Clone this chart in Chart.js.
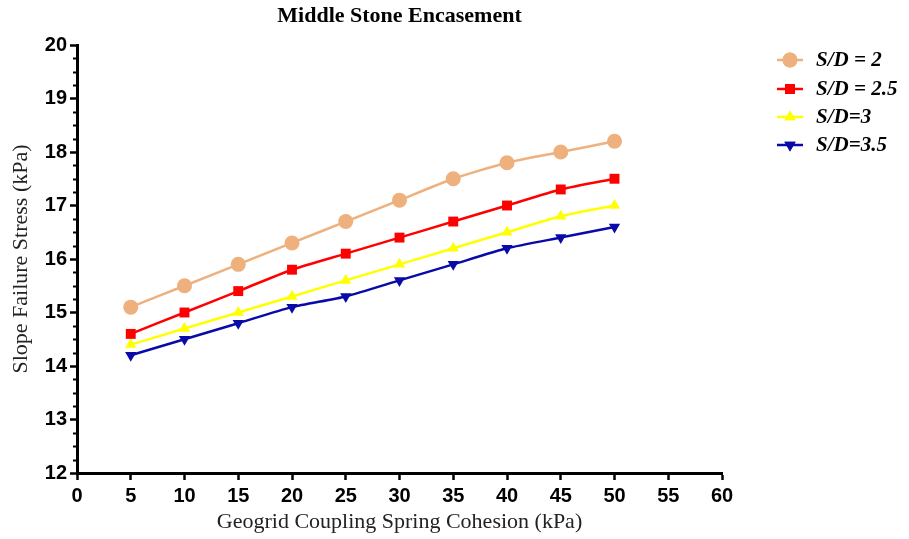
<!DOCTYPE html>
<html>
<head>
<meta charset="utf-8">
<script src="https://cdn.jsdelivr.net/npm/chart.js@4"></script>
<style>
  html,body{margin:0;padding:0;background:#fff;}
  #wrap{width:909px;height:539px;position:relative;}
</style>
</head>
<body>
<div id="wrap"><canvas id="c" width="909" height="539"></canvas></div>
<script>
// Middle Stone Encasement — slope failure stress vs geogrid coupling spring cohesion
const cohesion = [5, 10, 15, 20, 25, 30, 35, 40, 45, 50];
const sd2   = [15.1, 15.5, 15.9, 16.3, 16.7, 17.1, 17.5, 17.8, 18.0, 18.2];
const sd25  = [14.6, 15.0, 15.4, 15.8, 16.1, 16.4, 16.7, 17.0, 17.3, 17.5];
const sd3   = [14.4, 14.7, 15.0, 15.3, 15.6, 15.9, 16.2, 16.5, 16.8, 17.0];
const sd35  = [14.2, 14.5, 14.8, 15.1, 15.3, 15.6, 15.9, 16.2, 16.4, 16.6];
const seriesLabels = ['S/D = 2', 'S/D = 2.5', 'S/D=3', 'S/D=3.5'];

const tickFont = {family:'"Liberation Sans Narrow","Arial Narrow","Liberation Sans",sans-serif', size:20, weight:'bold'};
const serif = '"Liberation Serif","Times New Roman",serif';

const toXY = arr => arr.map((v,i)=>({x:cohesion[i], y:v}));

const styles = [
  {color:'#EEB07C', pointStyle:'circle',   radius:7.5, rotation:0},
  {color:'#FF0000', pointStyle:'rect',     radius:7,   rotation:0},
  {color:'#FFFF00', pointStyle:'triangle', radius:6.5, rotation:0},
  {color:'#0A0AA8', pointStyle:'triangle', radius:6.5, rotation:180},
];
const allData = [sd2, sd25, sd3, sd35];

const datasets = allData.map((arr,i)=>({
  label: seriesLabels[i],
  data: toXY(arr),
  borderColor: styles[i].color,
  backgroundColor: styles[i].color,
  borderWidth: 2.5,
  pointStyle: styles[i].pointStyle,
  pointRadius: styles[i].radius,
  pointRotation: styles[i].rotation,
  pointBorderWidth: 0,
  tension: 0.2,
  fill: false
}));

// titre + légende + petites graduations en Y
const extras = {
  id:'extras',
  afterDraw(chart){
    const ctx = chart.ctx, ca = chart.chartArea, ys = chart.scales.y;
    ctx.save();
    // minor ticks on y
    ctx.strokeStyle = '#000'; ctx.lineWidth = 2;
    for(let v=12; v<20; v+=0.25){
      if(Math.abs(v-Math.round(v))<1e-6) continue;
      const py = Math.round(ys.getPixelForValue(v))+0.5;
      ctx.beginPath(); ctx.moveTo(ca.left-4, py); ctx.lineTo(ca.left, py); ctx.stroke();
    }
    // title
    ctx.fillStyle = '#000';
    ctx.font = 'bold 22px '+serif;
    ctx.textAlign = 'center'; ctx.textBaseline = 'middle';
    ctx.fillText('Middle Stone Encasement', (ca.left+ca.right)/2, 16);
    // legend
    const rows = [60, 89, 117, 145];
    ctx.font = 'italic bold 21px '+serif;
    ctx.textAlign = 'left';
    rows.forEach((ry,i)=>{
      const s = styles[i];
      ctx.strokeStyle = s.color; ctx.lineWidth = 2.5;
      ctx.beginPath(); ctx.moveTo(777, ry); ctx.lineTo(803, ry); ctx.stroke();
      ctx.fillStyle = s.color;
      Chart.helpers.drawPoint(ctx, {pointStyle:s.pointStyle, radius:s.radius, rotation:s.rotation, borderWidth:0}, 790, ry);
      ctx.fill();
      ctx.fillStyle = '#000';
      ctx.fillText(seriesLabels[i], 816, ry+1);
    });
    ctx.restore();
  }
};

new Chart(document.getElementById('c').getContext('2d'), {
  type:'line',
  data:{datasets},
  options:{
    responsive:false,
    animation:false,
    layout:{padding:{left:0, right:187, top:45, bottom:0}},
    plugins:{legend:{display:false}, title:{display:false}, tooltip:{enabled:false}},
    scales:{
      x:{
        type:'linear', min:0, max:60,
        ticks:{stepSize:5, color:'#000', font:tickFont, padding:4, maxRotation:0},
        grid:{drawOnChartArea:false, drawTicks:true, tickLength:7, tickWidth:2.5, tickColor:'#000'},
        border:{width:3, color:'#000'},
        title:{display:true, text:'Geogrid Coupling Spring Cohesion (kPa)', color:'#222', font:{family:serif, size:22}, padding:{top:0}},
        afterFit(s){ s.height = 66; }
      },
      y:{
        min:12, max:20,
        ticks:{stepSize:1, color:'#000', font:tickFont, padding:3},
        grid:{drawOnChartArea:false, drawTicks:true, tickLength:7, tickWidth:2.5, tickColor:'#000'},
        border:{width:3, color:'#000'},
        title:{display:true, text:'Slope Failure Stress (kPa)', color:'#222', font:{family:serif, size:22}, padding:{top:8, bottom:0}},
        afterFit(s){ s.width = 77; }
      }
    }
  },
  plugins:[extras]
});
</script>
</body>
</html>
